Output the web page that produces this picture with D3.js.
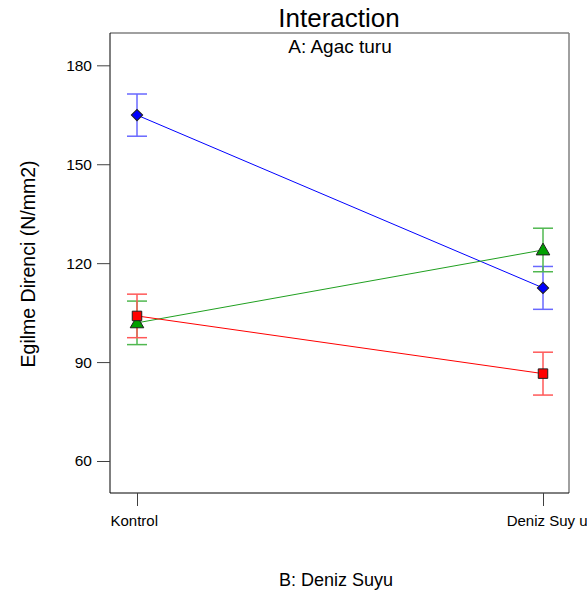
<!DOCTYPE html>
<html>
<head>
<meta charset="utf-8">
<script src="https://cdn.jsdelivr.net/npm/d3@7"></script>
<style>
  body { margin: 0; background: #fff; }
  text { font-family: Arial, "Liberation Sans", sans-serif; fill: #000; }
</style>
</head>
<body>
<div id="chart"></div>
<script>
// data
var levels = ["Kontrol", "Deniz Suy u"];
var yTicks = [60, 90, 120, 150, 180];
var seriesNames = ["A1", "A2", "A3"];
var blueMeans = [164.9, 112.5];
var blueErr = [6.4, 6.5];
var greenMeans = [101.9, 124.0];
var greenErr = [6.6, 6.6];
var redMeans = [104.0, 86.5];
var redErr = [6.6, 6.5];

var width = 587, height = 591;
var plotL = 110, plotR = 569, plotT = 33, plotB = 493;

var svg = d3.select("#chart").append("svg")
  .attr("width", width)
  .attr("height", height);

var x = d3.scaleLinear().domain([0, 1]).range([137, 543]);
var y = d3.scaleLinear().domain([50.3, 189.8]).range([plotB, plotT]);

// diamond = square turned by 45 degrees
var series = [
  { name: seriesNames[0], means: blueMeans, err: blueErr, line: "#0000ff", bar: "#6868ff", fill: "#0000ff", shape: d3.symbolSquare, size: 64, rot: 45, dy: 0 },
  { name: seriesNames[1], means: greenMeans, err: greenErr, line: "#20a020", bar: "#50b850", fill: "#00a000", shape: d3.symbolTriangle, size: 80, rot: 0, dy: 1 },
  { name: seriesNames[2], means: redMeans, err: redErr, line: "#ff0000", bar: "#ff5858", fill: "#ff0000", shape: d3.symbolSquare, size: 90, rot: 0, dy: 0 }
];

// frame
svg.append("line").attr("x1", plotL).attr("x2", plotR).attr("y1", plotT).attr("y2", plotT)
  .attr("stroke", "#808080").attr("stroke-width", 1.5);
svg.append("line").attr("x1", plotR).attr("x2", plotR).attr("y1", plotT).attr("y2", plotB)
  .attr("stroke", "#808080").attr("stroke-width", 1.5);
svg.append("line").attr("x1", plotL).attr("x2", plotL).attr("y1", plotT).attr("y2", plotB)
  .attr("stroke", "#000").attr("stroke-width", 1);
svg.append("line").attr("x1", plotL).attr("x2", plotR).attr("y1", plotB).attr("y2", plotB)
  .attr("stroke", "#000").attr("stroke-width", 1);

// y axis
var yAxis = d3.axisLeft(y).tickValues(yTicks).tickSize(13).tickPadding(5);
var gy = svg.append("g").attr("transform", "translate(" + plotL + ",0)").call(yAxis);
gy.select(".domain").remove();
gy.selectAll(".tick line").attr("stroke", "#404040");
gy.selectAll(".tick text").attr("font-size", 15.5).attr("fill", "#000")
  .style("font-family", "Arial, 'Liberation Sans', sans-serif");

// x axis
var xAxis = d3.axisBottom(x).tickValues([0, 1]).tickFormat(function(d) { return levels[d]; })
  .tickSize(13).tickPadding(9);
var gx = svg.append("g").attr("transform", "translate(0," + plotB + ")").call(xAxis);
gx.select(".domain").remove();
gx.selectAll(".tick line").attr("stroke", "#404040");
gx.selectAll(".tick text").attr("font-size", 15).attr("fill", "#000")
  .style("font-family", "Arial, 'Liberation Sans', sans-serif")
  .attr("text-anchor", function(d) { return d === 0 ? "start" : "end"; })
  .attr("dx", function(d) { return d === 0 ? -27 : 44; });

// lines, error bars
series.forEach(function(s) {
  svg.append("path")
    .datum(s.means)
    .attr("fill", "none")
    .attr("stroke", s.line)
    .attr("stroke-width", 1)
    .attr("d", d3.line().x(function(d, i) { return x(i); }).y(function(d) { return y(d); }));

  var eb = svg.append("g");
  s.means.forEach(function(m, i) {
    var cx = x(i);
    eb.append("line").attr("x1", cx).attr("x2", cx).attr("y1", y(m + s.err[i])).attr("y2", y(m - s.err[i]))
      .attr("stroke", s.bar).attr("stroke-width", 1.5);
    [m + s.err[i], m - s.err[i]].forEach(function(v) {
      eb.append("line").attr("x1", cx - 10).attr("x2", cx + 10).attr("y1", y(v)).attr("y2", y(v))
        .attr("stroke", s.bar).attr("stroke-width", 1.5);
    });
  });
});

// markers
series.forEach(function(s) {
  svg.selectAll(null)
    .data(s.means)
    .enter()
    .append("path")
    .attr("transform", function(d, i) { return "translate(" + x(i) + "," + (y(d) + s.dy) + ") rotate(" + s.rot + ")"; })
    .attr("d", d3.symbol().type(s.shape).size(s.size))
    .attr("fill", s.fill)
    .attr("stroke", "#202020")
    .attr("stroke-width", 1);
});

// titles
svg.append("text").attr("x", 339).attr("y", 27).attr("text-anchor", "middle")
  .attr("font-size", 26).text("Interaction");
svg.append("text").attr("x", 340).attr("y", 53).attr("text-anchor", "middle")
  .attr("font-size", 19).text("A: Agac turu");
svg.append("text").attr("x", 336).attr("y", 586).attr("text-anchor", "middle")
  .attr("font-size", 18).text("B: Deniz Suyu");
svg.append("text").attr("transform", "translate(35,264) rotate(-90)").attr("text-anchor", "middle")
  .attr("font-size", 19.5).text("Egilme Direnci (N/mm2)");
</script>
</body>
</html>
